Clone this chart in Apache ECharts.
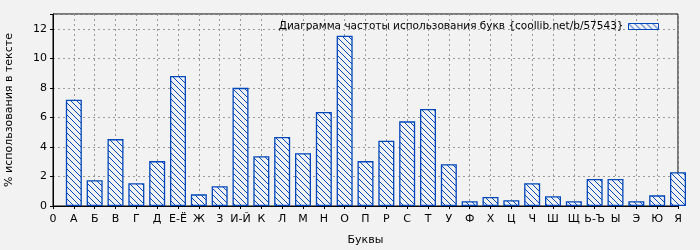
<!DOCTYPE html>
<html><head><meta charset="utf-8">
<script src="https://cdn.jsdelivr.net/npm/echarts@6/dist/echarts.min.js"></script>
<style>html,body{margin:0;padding:0;background:#f2f2f2;}#c{width:700px;height:250px;}</style>
</head><body><div id="c"></div>
<script>
var letters = ['А','Б','В','Г','Д','Е-Ё','Ж','З','И-Й','К','Л','М','Н','О','П','Р','С','Т','У','Ф','Х','Ц','Ч','Ш','Щ','Ь-Ъ','Ы','Э','Ю','Я'];
var values = [7.2,1.75,4.53,1.54,3.04,8.81,0.79,1.34,8.0,3.37,4.67,3.58,6.36,11.53,3.04,4.42,5.73,6.57,2.83,0.32,0.61,0.39,1.54,0.66,0.32,1.83,1.83,0.32,0.72,2.29];
var xTickLabels = ['0'].concat(letters);
var seriesName = 'Диаграмма частоты использования букв {coollib.net/b/57543}';

var blue = '#0047bb';
var pc = document.createElement('canvas');
pc.width = 6; pc.height = 6;
var ctx = pc.getContext('2d');
ctx.fillStyle = '#f2f2f2';
ctx.fillRect(0,0,6,6);
ctx.strokeStyle = blue;
ctx.lineWidth = 1;
ctx.beginPath();
ctx.moveTo(-1,-1); ctx.lineTo(7,7);
ctx.moveTo(-1,5); ctx.lineTo(1,7);
ctx.moveTo(5,-1); ctx.lineTo(7,1);
ctx.stroke();

var font = 'DejaVu Sans';
var chart = echarts.init(document.getElementById('c'), null, {renderer:'canvas'});
chart.setOption({
  backgroundColor: '#f2f2f2',
  animation: false,
  textStyle: {fontFamily: font},
  grid: {left: 53, right: 22, top: 14, bottom: 44, show: true, borderColor: '#000', borderWidth: 1, backgroundColor: 'transparent', outerBoundsMode: 'none', containLabel: false},
  legend: {
    show: true, right: 36, top: 16, align: 'right', itemWidth: 30, itemHeight: 6, itemGap: 9,
    textStyle: {fontFamily: font, fontSize: 10.5, color: '#000'},
    itemStyle: {borderWidth: 1, borderColor: blue},
    data: [{name: seriesName, icon: 'rect'}]
  },
  xAxis: {
    type: 'value', min: 0, max: 30, interval: 1,
    name: 'Буквы', nameLocation: 'middle', nameGap: 29,
    nameTextStyle: {fontFamily: font, fontSize: 11, color: '#000'},
    axisLine: {show: true, lineStyle: {color: '#000', width: 1}},
    axisTick: {show: true, length: 3, lineStyle: {color: '#000'}},
    axisLabel: {fontFamily: font, fontSize: 11, color: '#000', margin: 8,
      formatter: function(v){ return xTickLabels[Math.round(v)] || ''; }},
    splitLine: {show: true, lineStyle: {color: '#999', type: [2,3], width: 1}}
  },
  yAxis: {
    type: 'value', min: 0, max: 13, interval: 2,
    name: '% использования в тексте', nameLocation: 'middle', nameGap: 38,
    nameTextStyle: {fontFamily: font, fontSize: 11, color: '#000'},
    axisLine: {show: true, lineStyle: {color: '#000', width: 1}},
    axisTick: {show: true, length: 3, lineStyle: {color: '#000'}},
    axisLabel: {fontFamily: font, fontSize: 11, color: '#000', margin: 6,
      formatter: function(v){ return (v % 2 === 0) ? String(v) : ''; }},
    splitLine: {show: true, lineStyle: {color: '#999', type: [2,3], width: 1}}
  },
  series: [{
    name: seriesName, type: 'bar', barWidth: 16, clip: true,
    data: values.map(function(v, i){ return [i + 1, v]; }),
    itemStyle: {color: {image: pc, repeat: 'repeat'}, borderColor: blue, borderWidth: 1.3}
  }]
});
</script></body></html>
